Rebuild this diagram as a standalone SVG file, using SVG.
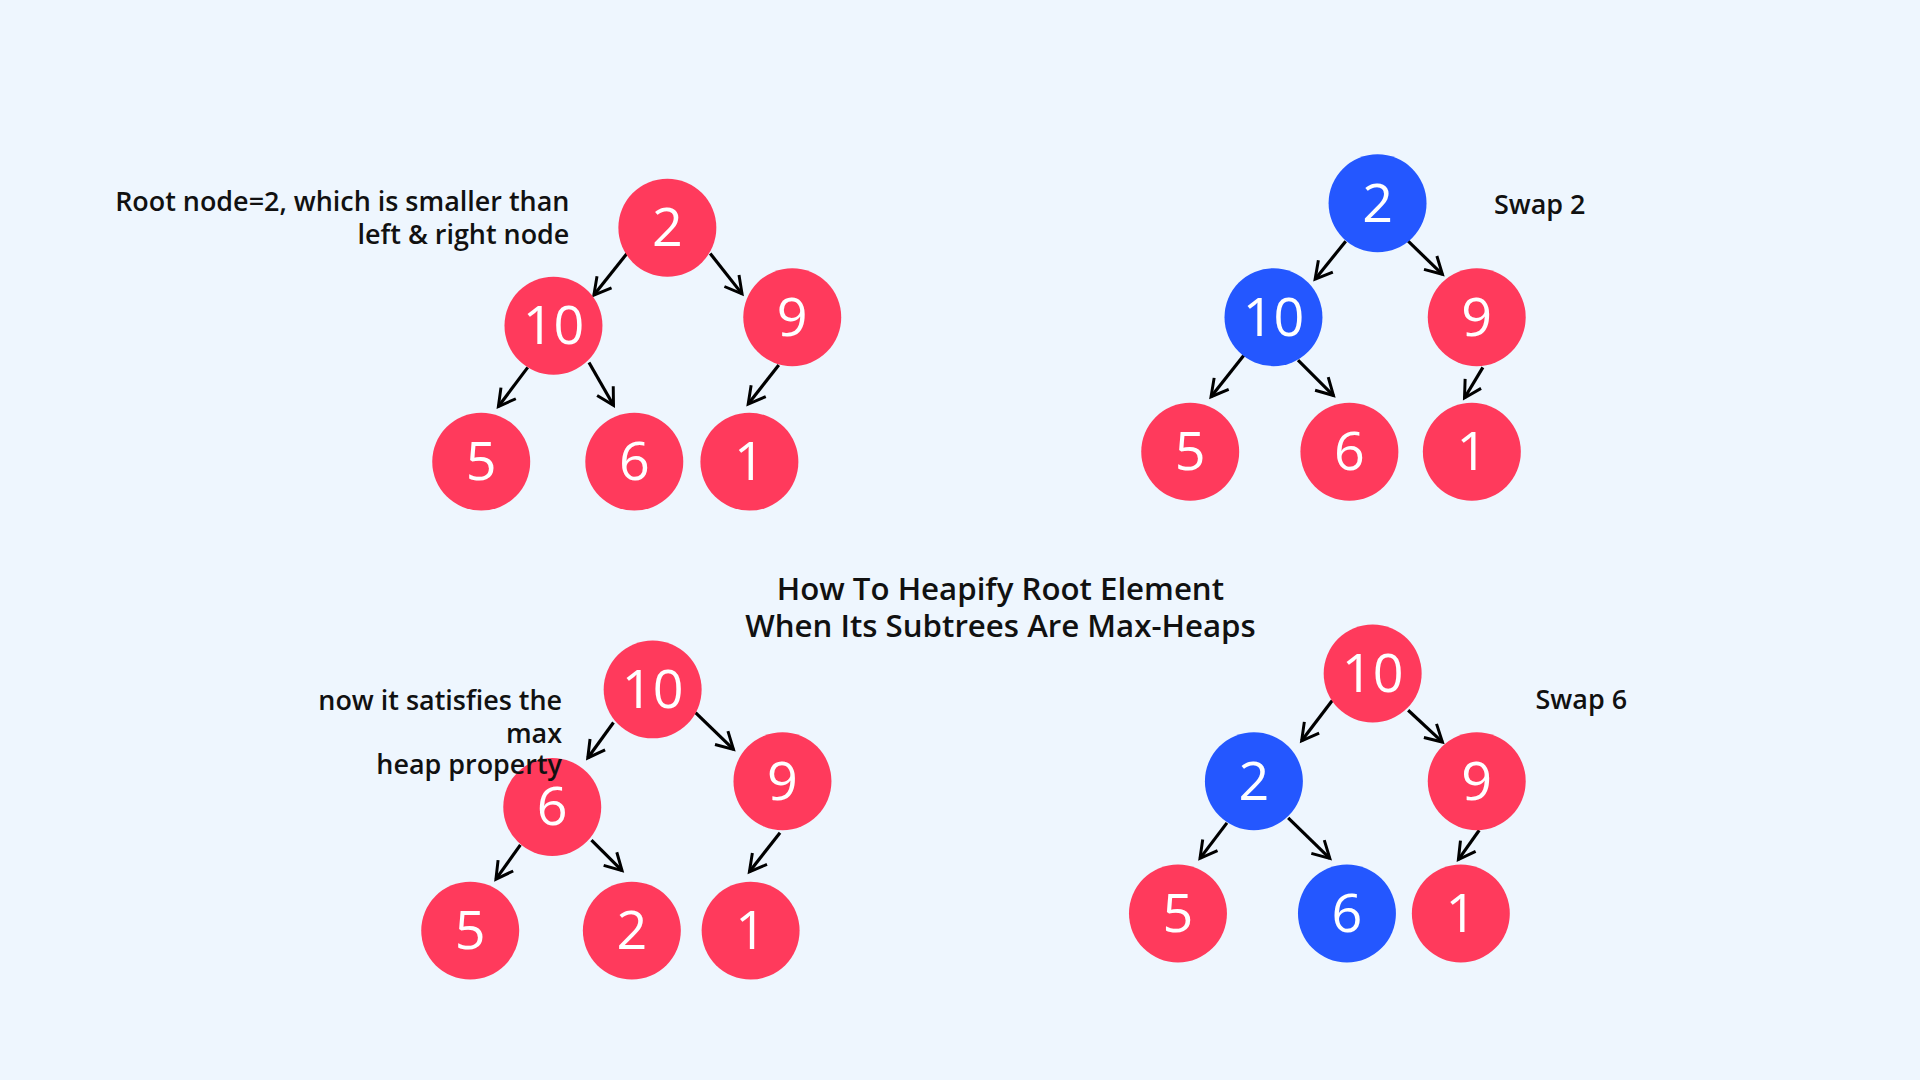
<svg xmlns="http://www.w3.org/2000/svg" width="1920" height="1080" viewBox="0 0 1920 1080">
<defs>
<style>
.r{fill:#FF3A5C}.b{fill:#2457FF}
.n{font-family:"Open Sans","DejaVu Sans",sans-serif;font-size:44px;fill:#fff;text-anchor:middle}
.t{font-family:"Open Sans","DejaVu Sans",sans-serif;font-weight:600;font-size:22px;fill:#111}
.c line{stroke:#000;stroke-width:2.6;marker-end:url(#a)}
</style>
<marker id="a" viewBox="0 0 12 12" refX="10" refY="6" markerWidth="7" markerHeight="7" orient="auto" markerUnits="strokeWidth"><path d="M1,1 L10,6 L1,11" fill="none" stroke="#000" stroke-width="1.6"/></marker>
</defs>
<rect width="1920" height="1080" fill="#EEF6FE"/>
<g transform="scale(1.2245)">
<g class="c" id="connectors">
<line x1="512" y1="207" x2="485" y2="241"/><line x1="580" y1="207" x2="606" y2="240"/><line x1="431" y1="300" x2="407" y2="332"/><line x1="481" y1="296" x2="501" y2="331"/><line x1="636" y1="298" x2="611" y2="330"/>
<line x1="1099" y1="197" x2="1074" y2="228"/><line x1="1150" y1="197" x2="1178" y2="224"/><line x1="1016" y1="290" x2="989" y2="324"/><line x1="1060" y1="294" x2="1089" y2="323"/><line x1="1211" y1="300" x2="1196" y2="325"/>
<line x1="501" y1="590" x2="480" y2="619"/><line x1="568" y1="582" x2="599" y2="612"/><line x1="425" y1="690" x2="405" y2="718"/><line x1="483" y1="686" x2="508" y2="711"/><line x1="637" y1="680" x2="612" y2="712"/>
<line x1="1088" y1="572" x2="1063" y2="605"/><line x1="1150" y1="580" x2="1178" y2="606"/><line x1="1002" y1="672" x2="980" y2="701"/><line x1="1052" y1="668" x2="1086" y2="701"/><line x1="1208" y1="678" x2="1191" y2="702"/>
</g>
<g id="t1a"><circle class="r" cx="545" cy="186" r="40"/><text class="n" x="545" y="201">2</text></g>
<g id="t1b"><circle class="r" cx="452" cy="266" r="40"/><text class="n" x="452" y="281">10</text></g>
<g id="t1c"><circle class="r" cx="647" cy="259" r="40"/><text class="n" x="647" y="274">9</text></g>
<g id="t1d"><circle class="r" cx="393" cy="377" r="40"/><text class="n" x="393" y="392">5</text></g>
<g id="t1e"><circle class="r" cx="518" cy="377" r="40"/><text class="n" x="518" y="392">6</text></g>
<g id="t1f"><circle class="r" cx="612" cy="377" r="40"/><text class="n" x="612" y="392">1</text></g>
<g id="t2a"><circle class="b" cx="1125" cy="166" r="40"/><text class="n" x="1125" y="181">2</text></g>
<g id="t2b"><circle class="b" cx="1040" cy="259" r="40"/><text class="n" x="1040" y="274">10</text></g>
<g id="t2c"><circle class="r" cx="1206" cy="259" r="40"/><text class="n" x="1206" y="274">9</text></g>
<g id="t2d"><circle class="r" cx="972" cy="369" r="40"/><text class="n" x="972" y="384">5</text></g>
<g id="t2e"><circle class="r" cx="1102" cy="369" r="40"/><text class="n" x="1102" y="384">6</text></g>
<g id="t2f"><circle class="r" cx="1202" cy="369" r="40"/><text class="n" x="1202" y="384">1</text></g>
<g id="t3a"><circle class="r" cx="533" cy="563" r="40"/><text class="n" x="533" y="578">10</text></g>
<g id="t3b"><circle class="r" cx="451" cy="659" r="40"/><text class="n" x="451" y="674">6</text></g>
<g id="t3c"><circle class="r" cx="639" cy="638" r="40"/><text class="n" x="639" y="653">9</text></g>
<g id="t3d"><circle class="r" cx="384" cy="760" r="40"/><text class="n" x="384" y="775">5</text></g>
<g id="t3e"><circle class="r" cx="516" cy="760" r="40"/><text class="n" x="516" y="775">2</text></g>
<g id="t3f"><circle class="r" cx="613" cy="760" r="40"/><text class="n" x="613" y="775">1</text></g>
<g id="t4a"><circle class="r" cx="1121" cy="550" r="40"/><text class="n" x="1121" y="565">10</text></g>
<g id="t4b"><circle class="b" cx="1024" cy="638" r="40"/><text class="n" x="1024" y="653">2</text></g>
<g id="t4c"><circle class="r" cx="1206" cy="638" r="40"/><text class="n" x="1206" y="653">9</text></g>
<g id="t4d"><circle class="r" cx="962" cy="746" r="40"/><text class="n" x="962" y="761">5</text></g>
<g id="t4e"><circle class="b" cx="1100" cy="746" r="40"/><text class="n" x="1100" y="761">6</text></g>
<g id="t4f"><circle class="r" cx="1193" cy="746" r="40"/><text class="n" x="1193" y="761">1</text></g>
<g id="labels">
<text class="t" text-anchor="end" x="465" y="172">Root node=2, which is smaller than</text>
<text class="t" text-anchor="end" x="465" y="199">left &amp; right node</text>
<text class="t" x="1220" y="175">Swap 2</text>
<text class="t" x="1254" y="579">Swap 6</text>
<text class="t" text-anchor="end" x="459" y="580">now it satisfies the</text>
<text class="t" text-anchor="end" x="459" y="607">max</text>
<text class="t" text-anchor="end" x="459" y="632">heap property</text>
<text class="t" style="font-size:25.5px" text-anchor="middle" x="817" y="490">How To Heapify Root Element</text>
<text class="t" style="font-size:25.5px" text-anchor="middle" x="817" y="520">When Its Subtrees Are Max-Heaps</text>
</g>
</g>
</svg>
